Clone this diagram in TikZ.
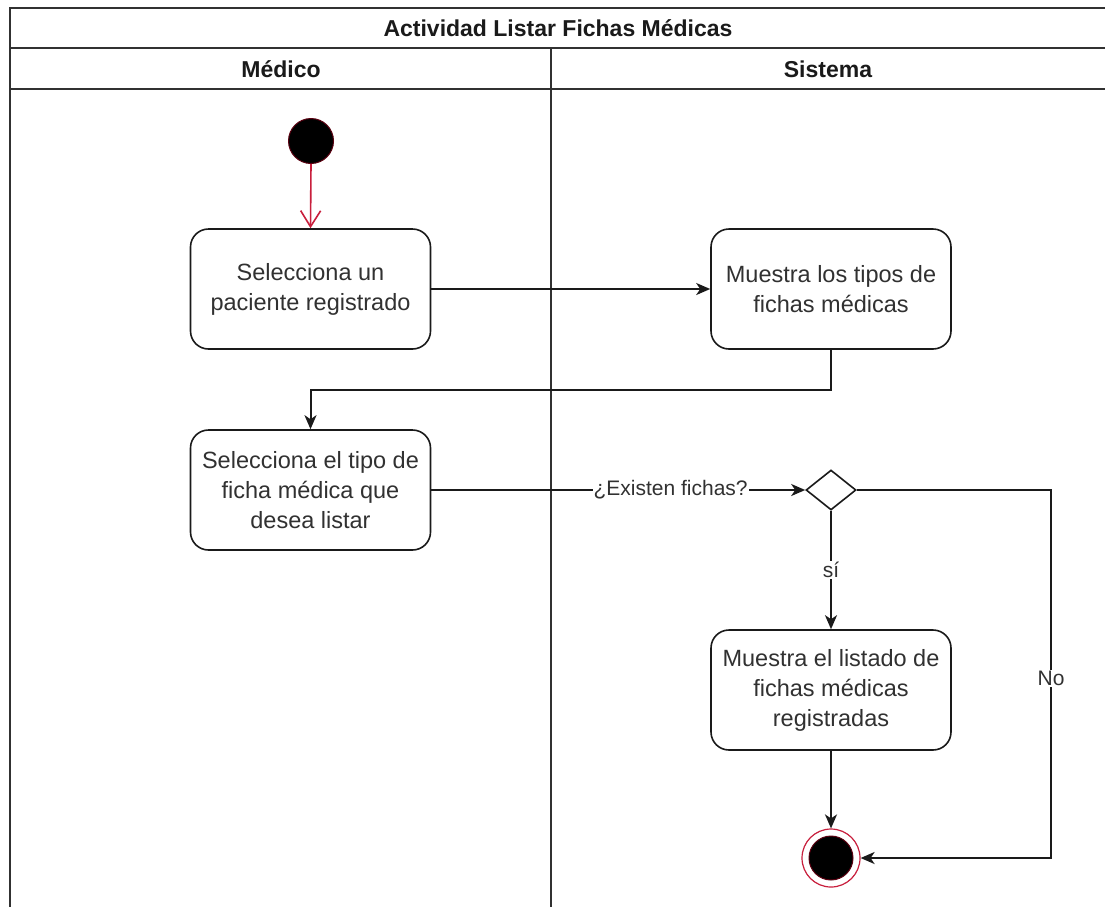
\documentclass[tikz,border=0pt]{standalone}
\usepackage{fontspec}
\setmainfont{Liberation Sans}
\usetikzlibrary{arrows.meta,shapes.geometric}
\definecolor{ink}{HTML}{1A1A1A}
\definecolor{umlred}{HTML}{C81E3C}
\definecolor{darkred}{HTML}{5A0010}
\tikzset{
  lane/.style={draw=ink!90, line width=2pt},
  headtext/.style={font=\bfseries\fontsize{23}{28}\selectfont, text=ink},
  activity/.style={draw=ink, line width=1.6pt, rounded corners=18pt,
    minimum width=240pt, minimum height=120pt, inner sep=0pt, align=center,
    text=ink!90, font=\fontsize{23.5}{30}\selectfont},
  flow/.style={draw=ink, line width=2pt, -{Stealth[length=14pt,width=12pt,inset=4pt]}},
  startflow/.style={draw=umlred, line width=1.6pt, -{Straight Barb[length=16pt,width=20pt,line width=1.6pt]}},
  guard/.style={fill=white, inner sep=1pt, text=ink!90, font=\fontsize{21}{25}\selectfont},
  decision/.style={diamond, draw=ink, line width=1.6pt, minimum width=50pt,
    minimum height=40pt, inner sep=0pt},
}
\begin{document}
\begin{tikzpicture}[x=1pt,y=-1pt]
\useasboundingbox (0,0) rectangle (1105,906);
\clip (0,0) rectangle (1105,906);
\fill[white] (0,0) rectangle (1105,906);

% swimlane frame
\draw[lane] (10,930) -- (10,8) -- (1130,8);
\draw[lane] (10,48) -- (1130,48);
\draw[lane] (10,89) -- (1130,89);
\draw[lane] (551,48) -- (551,930);
\node[headtext] (title) at (558,28) {Actividad Listar Fichas Médicas};
\node[headtext] (medico) at (281,69) {Médico};
\node[headtext] (sistema) at (828,69) {Sistema};

% initial state
\node[circle, fill=black, draw=darkred, line width=1pt, minimum size=45pt, inner sep=0pt] (start) at (311,141) {};

% activities
\node[activity] (b1) at (310.5,289) {Selecciona un\\paciente registrado};
\node[activity] (b2) at (831,289) {Muestra los tipos de\\fichas médicas};
\node[activity] (b3) at (310.5,490) {Selecciona el tipo de\\ficha médica que\\desea listar};
\node[activity] (b4) at (831,690) {Muestra el listado de\\fichas médicas\\registradas};

% decision
\node[decision] (dec) at (831,490) {};

% final state
\node[circle, draw=umlred, line width=1.2pt, minimum size=58pt, inner sep=0pt] (fin) at (831,858) {};
\node[circle, fill=black, draw=darkred, line width=1pt, minimum size=44pt, inner sep=0pt] (finc) at (831,858) {};

\coordinate (j1) at (310.5,390);
\coordinate (k1) at (1051,858);

% flows
\draw[startflow] (start.south) -- (b1.north);
\draw[flow] (b1.east) -- (b2.west);
\draw[flow] (b2.south) |- (j1) -- (b3.north);
\draw[flow] (b3.east) -- node[guard, pos=0.64] {¿Existen fichas?} (dec.west);
\draw[flow] (dec.south) -- node[guard, pos=0.5] {sí} (b4.north);
\draw[flow] (b4.south) -- (fin.north);
\draw[flow] (dec.east) -| node[guard, pos=0.756] {No} (k1) -- (fin.east);
\end{tikzpicture}
\end{document}
